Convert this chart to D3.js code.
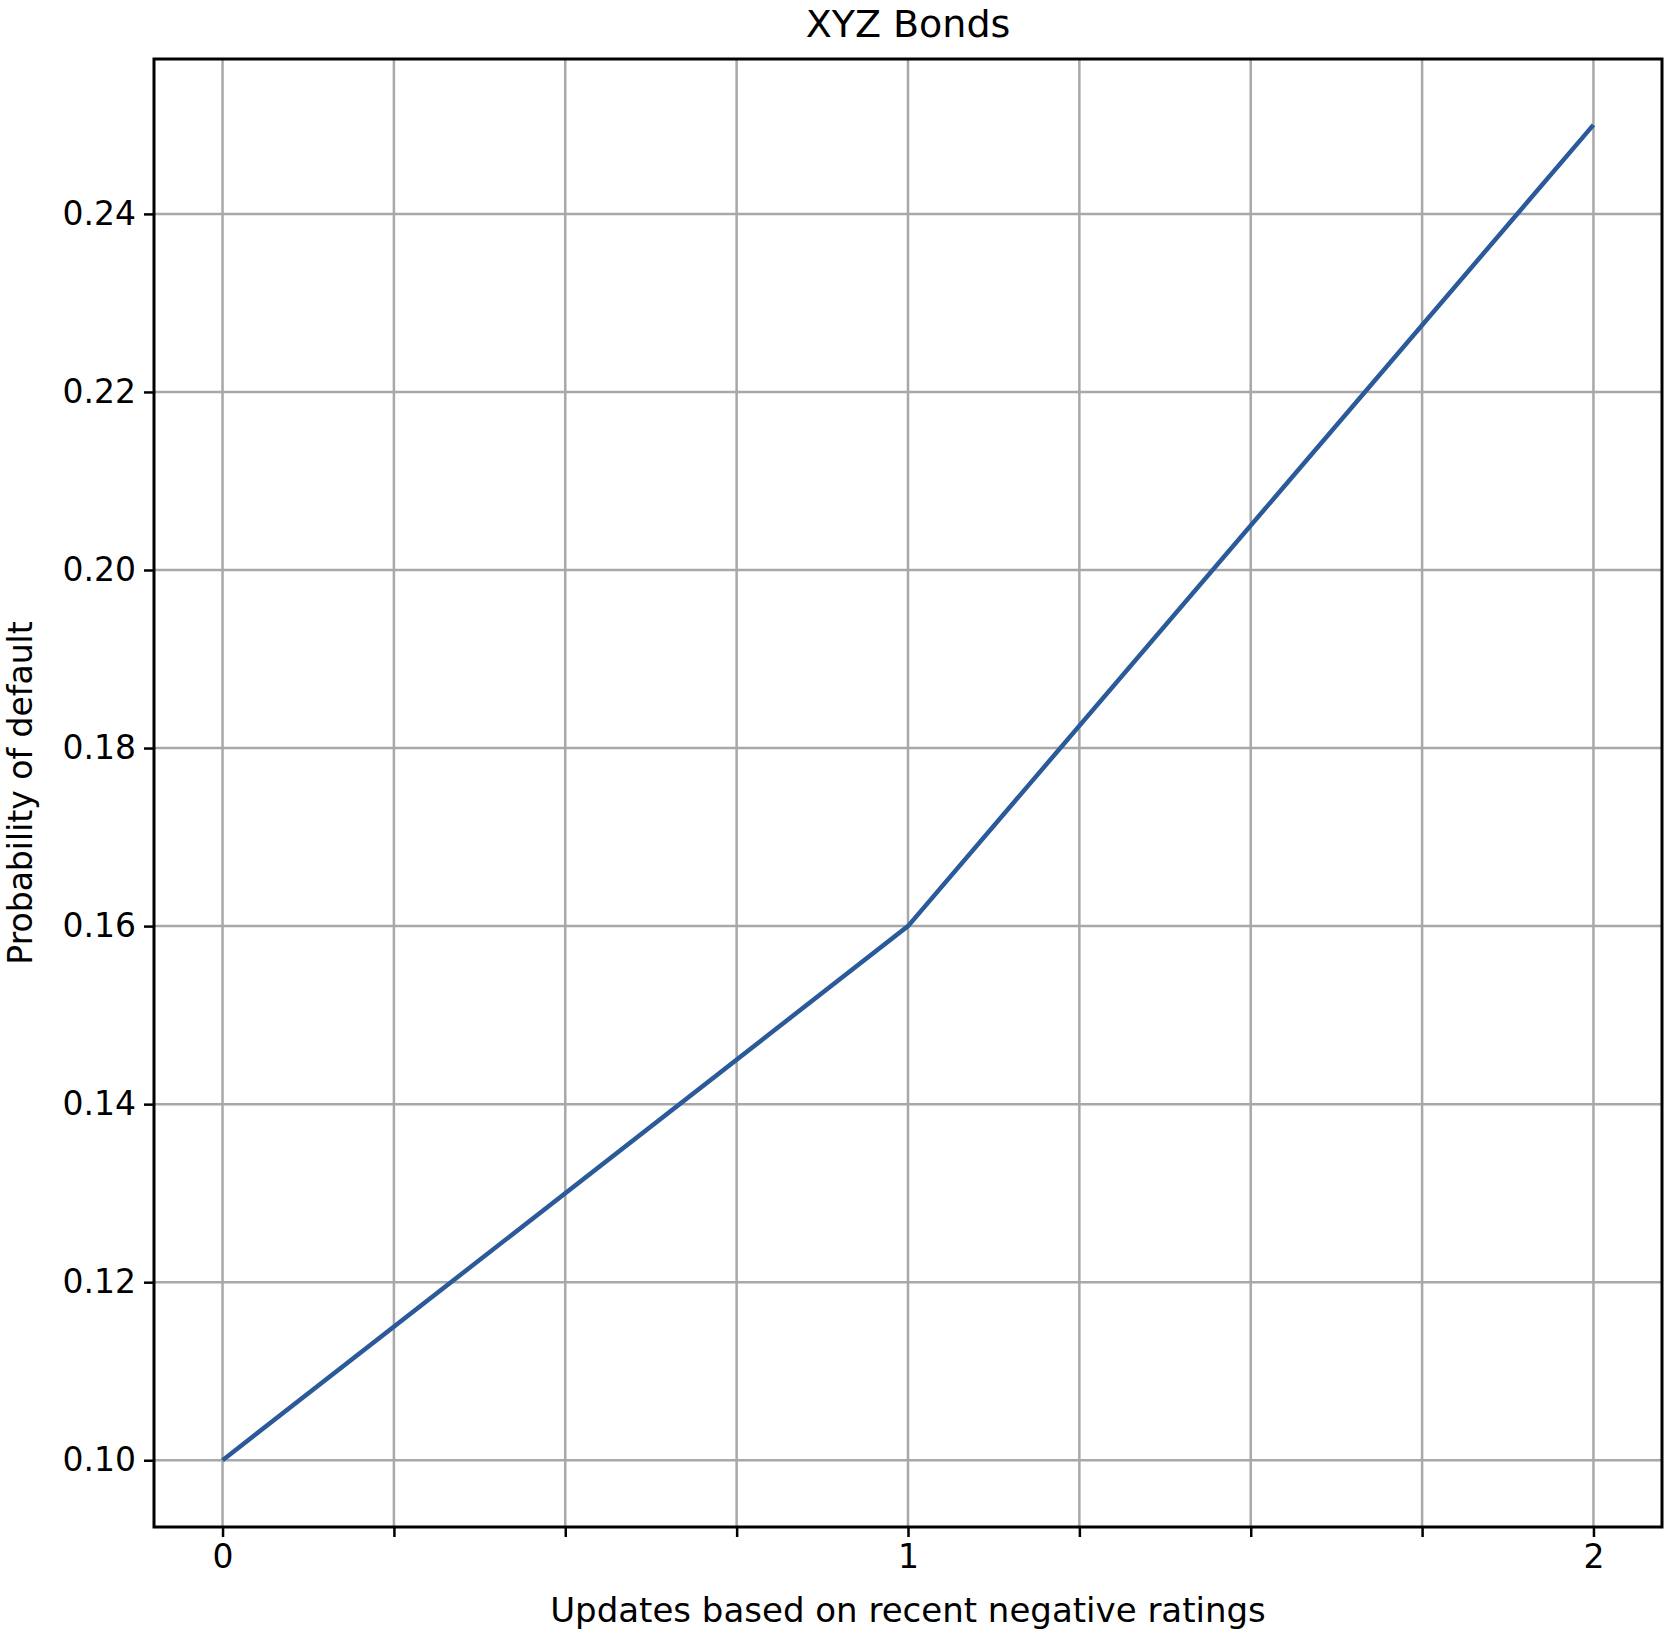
<!DOCTYPE html>
<html lang="en">
<head>
    <meta charset="UTF-8">
    <title>XYZ Bonds</title>
    <style>
        body { margin: 0; background: #fff; }
        text { font-family: "DejaVu Sans", sans-serif; fill: #000; }
    </style>
</head>
<body>
    <div id="my_dataviz"></div>
    <script src="https://d3js.org/d3.v7.min.js"></script>
    <script>
        // data
        const updates = [0, 1, 2];
        const probDefault = [0.10, 0.16, 0.25];
        const xTicks = [0, 1, 2];
        const yTicks = [0.10, 0.12, 0.14, 0.16, 0.18, 0.20, 0.22, 0.24];

        const W = 1669, H = 1634;
        const margin = { top: 59, right: 7, bottom: 107, left: 154 },
            width = W - margin.left - margin.right,
            height = H - margin.top - margin.bottom;

        const svg = d3.select("#my_dataviz")
            .append("svg")
            .attr("width", W)
            .attr("height", H);
        const g = svg.append("g")
            .attr("transform", `translate(${margin.left}, ${margin.top})`);

        const x = d3.scaleLinear().domain([-0.1, 2.1]).range([0, width]);
        const y = d3.scaleLinear().domain([0.0925, 0.2574]).range([height, 0]);

        // grid: x every 0.25, y every 0.02
        const xGrid = d3.range(0, 2.01, 0.25);
        g.append("g").selectAll("line").data(xGrid).join("line")
            .attr("x1", d => x(d)).attr("x2", d => x(d))
            .attr("y1", 0).attr("y2", height)
            .attr("stroke", "#a8a8a8").attr("stroke-width", 2.5);
        g.append("g").selectAll("line").data(yTicks).join("line")
            .attr("y1", d => y(d)).attr("y2", d => y(d))
            .attr("x1", 0).attr("x2", width)
            .attr("stroke", "#a8a8a8").attr("stroke-width", 2.5);

        // axes
        const xAxis = g.append("g")
            .attr("transform", `translate(0, ${height})`)
            .call(d3.axisBottom(x).tickValues(xGrid).tickSize(10).tickPadding(8)
                .tickFormat(d => xTicks.includes(d) ? d3.format("d")(d) : ""));
        const yAxis = g.append("g")
            .call(d3.axisLeft(y).tickValues(yTicks).tickSize(10).tickPadding(8)
                .tickFormat(d3.format(".2f")));
        [xAxis, yAxis].forEach(a => {
            a.select(".domain").remove();
            a.selectAll("line").attr("stroke", "#000").attr("stroke-width", 2.5);
            a.selectAll("text").style("font-size", "33px").style("font-family", "DejaVu Sans");
        });

        // line
        g.append("path")
            .datum(updates.map((u, i) => [u, probDefault[i]]))
            .attr("fill", "none")
            .attr("stroke", "#2a5a9a")
            .attr("stroke-width", 4.5)
            .attr("d", d3.line().x(d => x(d[0])).y(d => y(d[1])));

        // frame
        g.append("rect")
            .attr("width", width).attr("height", height)
            .attr("fill", "none").attr("stroke", "#000").attr("stroke-width", 3);

        // titles
        svg.append("text").attr("x", margin.left + width / 2).attr("y", 37)
            .attr("text-anchor", "middle").style("font-size", "38px").text("XYZ Bonds");
        svg.append("text").attr("x", margin.left + width / 2).attr("y", 1622)
            .attr("text-anchor", "middle").style("font-size", "34px")
            .text("Updates based on recent negative ratings");
        svg.append("text")
            .attr("transform", `translate(32, ${margin.top + height / 2}) rotate(-90)`)
            .attr("text-anchor", "middle").style("font-size", "33px")
            .text("Probability of default");
    </script>
</body>
</html>
